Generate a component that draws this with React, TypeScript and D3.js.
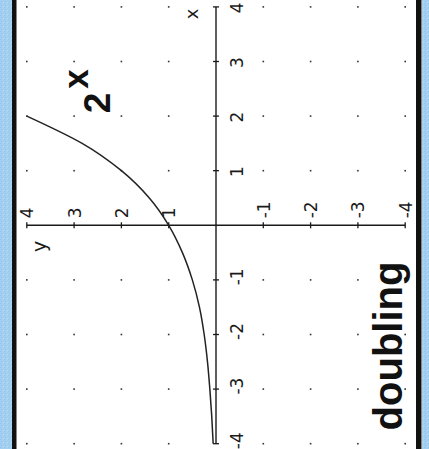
import React from "react";
import * as d3 from "d3";

// Data (graph of y = 2^x, drawn rotated a quarter turn)
const xTicks = [-4, -3, -2, -1, 1, 2, 3, 4];
const yTicks = [-4, -3, -2, -1, 1, 2, 3, 4];
const curveX = [-4, -3.5, -3, -2.5, -2, -1.5, -1, -0.5, 0, 0.5, 1, 1.5, 2];
const curveY = [0.06, 0.09, 0.13, 0.18, 0.25, 0.35, 0.5, 0.71, 1, 1.41, 2, 2.83, 4];
const curveLabelBase = "2";
const curveLabelExp = "x";
const title = "doubling";
const xAxisName = "x";
const yAxisName = "y";

const W = 429;
const H = 449;

export default function App() {
  // original x runs upward on the page, original y runs leftward
  const xs = d3.scaleLinear().domain([-4, 4]).range([443.7, 6.9]); // -> page y
  const ys = d3.scaleLinear().domain([-4, 4]).range([405.2, 26.8]); // -> page x
  const ox = ys(0);
  const oy = xs(0);

  const pts: [number, number][] = curveX.map((x, i) => [x, curveY[i]]);
  const line = d3
    .line<[number, number]>()
    .x((d) => ys(d[1]))
    .y((d) => xs(d[0]))
    .curve(d3.curveMonotoneY);

  const dots: { x: number; y: number }[] = [];
  xTicks.forEach((x) => yTicks.forEach((y) => dots.push({ x, y })));

  const ink = "#1a1a1a";
  const labelFont = "'DejaVu Sans', sans-serif";
  const boldFont = "'Liberation Sans', Arial, sans-serif";

  return (
    <svg
      width={W}
      height={H}
      style={{ position: "fixed", left: 0, top: 0, display: "block" }}
      xmlns="http://www.w3.org/2000/svg"
    >
      <defs>
        <pattern id="speck" width="4" height="4" patternUnits="userSpaceOnUse">
          <rect width="4" height="4" fill="#a3d0f1" />
          <rect x="1" y="1" width="1" height="1" fill="#8fc2ea" />
          <rect x="3" y="2" width="1" height="1" fill="#b7dcf6" />
          <rect x="0" y="3" width="1" height="1" fill="#93c6ec" />
        </pattern>
      </defs>
      {/* blue border */}
      <rect x={0} y={0} width={W} height={H} fill="url(#speck)" />
      {/* white paper */}
      <rect x={12} y={0} width={410} height={H} fill="#ffffff" />
      {/* black frame lines */}
      <rect x={12} y={0} width={4.5} height={H} fill="#111" />
      <rect x={416} y={0} width={5.5} height={H} fill="#111" />

      {/* grid dots */}
      {dots.map((d, i) => (
        <rect
          key={i}
          x={ys(d.y) - 0.8}
          y={xs(d.x) - 0.8}
          width={1.6}
          height={1.6}
          fill="#333"
        />
      ))}

      {/* axes */}
      <line x1={ox} x2={ox} y1={xs(4)} y2={xs(-4)} stroke={ink} strokeWidth={1.4} />
      <line x1={ys(4)} x2={ys(-4)} y1={oy} y2={oy} stroke={ink} strokeWidth={1.4} />
      {xTicks.map((t) => (
        <line key={"xt" + t} x1={ox - 3} x2={ox + 3} y1={xs(t)} y2={xs(t)} stroke={ink} strokeWidth={1.3} />
      ))}
      {yTicks.map((t) => (
        <line key={"yt" + t} x1={ys(t)} x2={ys(t)} y1={oy - 3} y2={oy + 3} stroke={ink} strokeWidth={1.3} />
      ))}

      {/* x tick labels (right of the vertical axis) */}
      {xTicks.map((t) => (
        <text
          key={"xl" + t}
          transform={`translate(${ox + 27},${xs(t) + (t < 0 ? -3 : 1)}) rotate(-90)`}
          textAnchor="middle"
          fontFamily={labelFont}
          fontSize={17}
          fill={ink}
        >
          {t < 0 ? "-" + Math.abs(t) : String(t)}
        </text>
      ))}
      {/* y tick labels (above the horizontal axis) */}
      {yTicks.map((t) => (
        <text
          key={"yl" + t}
          transform={`translate(${ys(t) + 6.5},${oy - 7}) rotate(-90)`}
          textAnchor="start"
          fontFamily={labelFont}
          fontSize={17}
          fill={ink}
        >
          {t < 0 ? "-" + Math.abs(t) : String(t)}
        </text>
      ))}

      {/* axis names */}
      <text
        transform={`translate(${ox - 18},${xs(4) + 7}) rotate(-90)`}
        textAnchor="middle"
        fontFamily={labelFont}
        fontSize={18}
        fill={ink}
      >
        {xAxisName}
      </text>
      <text
        transform={`translate(${ys(4) + 19},${oy + 21}) rotate(-90)`}
        textAnchor="middle"
        fontFamily={labelFont}
        fontSize={19}
        fill={ink}
      >
        {yAxisName}
      </text>

      {/* curve */}
      <path d={line(pts) ?? ""} fill="none" stroke="#222" strokeWidth={1.5} />

      {/* curve label 2^x */}
      <text
        transform={`translate(110,103) rotate(-90)`}
        textAnchor="middle"
        fontFamily={boldFont}
        fontWeight="bold"
        fontSize={37}
        fill="#111"
      >
        {curveLabelBase}
      </text>
      <text
        transform={`translate(87.5,79) rotate(-90)`}
        textAnchor="middle"
        fontFamily={boldFont}
        fontWeight="bold"
        fontSize={35}
        fill="#111"
      >
        {curveLabelExp}
      </text>

      {/* title */}
      <text
        transform={`translate(402,346) rotate(-90)`}
        textAnchor="middle"
        fontFamily={boldFont}
        fontWeight="bold"
        fontSize={40}
        fill="#111"
      >
        {title}
      </text>
    </svg>
  );
}
